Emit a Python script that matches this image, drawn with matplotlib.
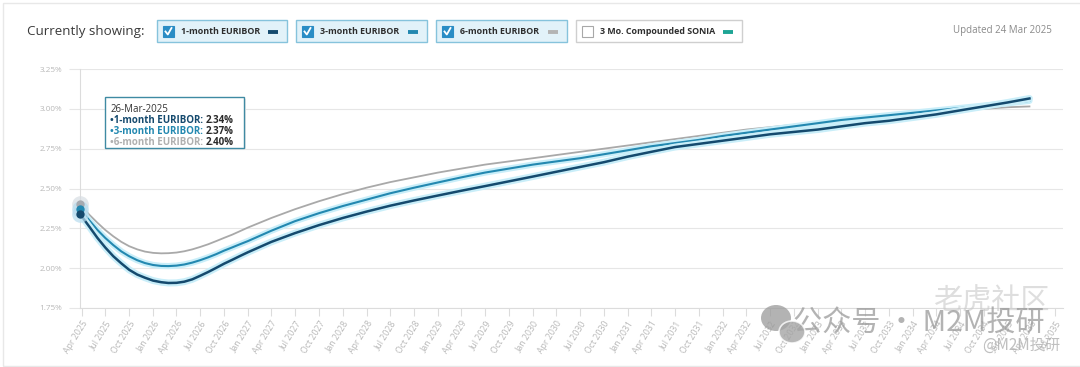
import numpy as np
import pandas as pd
import matplotlib
matplotlib.use("Agg")
import matplotlib.pyplot as plt
import matplotlib.dates as mdates
from matplotlib.patches import Rectangle, Ellipse
from matplotlib.lines import Line2D

# ── Data ──────────────────────────────────────────────────────────────────────

# monthly points through 2026, quarterly afterwards
dates = (["2025-03-26"]
         + [f"2025-{m:02d}-01" for m in range(5, 13)]
         + [f"2026-{m:02d}-01" for m in range(1, 13)]
         + [f"{y}-{m:02d}-01" for y in range(2027, 2035) for m in (1, 4, 7, 10)]
         + ["2035-01-01", "2035-03-26"])

euribor_1m = [2.34, 2.26, 2.19, 2.13, 2.075, 2.03, 1.99, 1.96, 1.94,
              1.922, 1.912, 1.907, 1.908, 1.915, 1.93, 1.952, 1.976, 2.002,
              2.028, 2.052, 2.076,
              2.10, 2.165, 2.22, 2.27, 2.315, 2.355, 2.392, 2.425, 2.456, 2.486,
              2.515, 2.545, 2.575, 2.605, 2.635, 2.665, 2.70, 2.73, 2.76, 2.78,
              2.80, 2.82, 2.84, 2.855, 2.87, 2.89, 2.91, 2.925, 2.945, 2.965,
              2.99, 3.015, 3.04, 3.065]
euribor_3m = [2.37, 2.30, 2.24, 2.19, 2.145, 2.105, 2.075, 2.05, 2.032,
              2.02, 2.014, 2.013, 2.016, 2.023, 2.035, 2.05, 2.068, 2.088,
              2.11, 2.13, 2.15,
              2.17, 2.235, 2.295, 2.345, 2.39, 2.43, 2.47, 2.505, 2.538, 2.57,
              2.60, 2.625, 2.65, 2.67, 2.69, 2.715, 2.74, 2.765, 2.785, 2.805,
              2.83, 2.85, 2.87, 2.89, 2.91, 2.93, 2.945, 2.96, 2.975, 2.99,
              3.005, 3.02, 3.035, 3.05]
euribor_6m = [2.40, 2.335, 2.285, 2.24, 2.20, 2.165, 2.138, 2.118, 2.104,
              2.096, 2.093, 2.094, 2.098, 2.106, 2.118, 2.133, 2.15, 2.17,
              2.19, 2.21, 2.232,
              2.255, 2.315, 2.37, 2.42, 2.465, 2.505, 2.54, 2.57, 2.60, 2.625,
              2.65, 2.67, 2.69, 2.71, 2.73, 2.75, 2.77, 2.79, 2.81, 2.83,
              2.85, 2.87, 2.885, 2.90, 2.92, 2.935, 2.95, 2.96, 2.97, 2.98,
              2.99, 3.00, 3.01, 3.015]

y_ticks = [1.75, 2.00, 2.25, 2.50, 2.75, 3.00, 3.25]
legend_labels = ["1-month EURIBOR", "3-month EURIBOR", "6-month EURIBOR",
                 "3 Mo. Compounded SONIA"]
legend_checked = [True, True, True, False]
tooltip_date = "26-Mar-2025"

# ── Style ─────────────────────────────────────────────────────────────────────

C_1M = "#154a6e"
C_3M = "#2388b0"
C_6M = "#a9a9a9"
C_SONIA = "#1ea595"
GLOW = "#c9eef9"
GRID = "#e6e6e6"
TICK_TXT = "#b8b8b8"

plt.rcParams["font.family"] = ["Open Sans", "DejaVu Sans"]

W, H = 1080, 367
fig = plt.figure(figsize=(W / 100, H / 100), dpi=100)


def fx(x):
    return x / W


def fy(y):
    return 1 - y / H


# card border
fig.patches.append(Rectangle((fx(3), fy(366)), fx(1080), fy(3) - fy(366),
                             transform=fig.transFigure, fill=False,
                             edgecolor="#e8e8e8", lw=1))

# ── Header ────────────────────────────────────────────────────────────────────

fig.text(fx(27), fy(31), "Currently showing:", fontsize=9.6, color="#3a3a3a",
         va="center", ha="left")
fig.text(fx(1052), fy(31), "Updated 24 Mar 2025", fontsize=7.0,
         color="#8a8a8a", va="center", ha="right")

boxes = [(157, 287), (296, 427), (436, 567), (576, 742)]
swatch_cols = [C_1M, C_3M, "#b4b4b4", C_SONIA]
for (x0, x1), lab, chk, sc in zip(boxes, legend_labels, legend_checked,
                                  swatch_cols):
    fc = "#e2f2f9" if chk else "white"
    ec = "#86c3dc" if chk else "#cfcfcf"
    fig.patches.append(Rectangle((fx(x0), fy(42)), fx(x1 - x0), fy(20) - fy(42),
                                 transform=fig.transFigure, facecolor=fc,
                                 edgecolor=ec, lw=1))
    # checkbox
    cb_fc = "#2a8dc5" if chk else "white"
    cb_ec = "#2a8dc5" if chk else "#a8a8a8"
    fig.patches.append(Rectangle((fx(x0 + 6), fy(37)), fx(11), fy(26) - fy(37),
                                 transform=fig.transFigure, facecolor=cb_fc,
                                 edgecolor=cb_ec, lw=0.8))
    if chk:
        fig.lines.append(Line2D([fx(x0 + 8.5), fx(x0 + 10.8), fx(x0 + 14.5)],
                                [fy(31.5), fy(34.5), fy(28)],
                                transform=fig.transFigure, color="white",
                                lw=1.3))
    fig.text(fx(x0 + 24), fy(31.5), lab, fontsize=6.4, fontweight="bold",
             color="#2d2d2d", va="center", ha="left")
    fig.lines.append(Line2D([fx(x1 - 19), fx(x1 - 9)], [fy(31.5), fy(31.5)],
                            transform=fig.transFigure, color=sc, lw=2.8,
                            solid_capstyle="butt"))

# ── Chart ─────────────────────────────────────────────────────────────────────

ax = fig.add_axes([fx(80), fy(308), fx(1063) - fx(80), fy(69) - fy(308)])
x = pd.to_datetime(dates)

ax.plot(x, euribor_6m, color=C_6M, lw=1.3, zorder=3)
ax.plot(x, euribor_3m, color=GLOW, lw=4.5, zorder=3.5, solid_capstyle="round")
ax.plot(x, euribor_3m, color=C_3M, lw=1.5, zorder=4)
ax.plot(x, euribor_1m, color=GLOW, lw=5, zorder=4.5, solid_capstyle="round")
ax.plot(x, euribor_1m, color=C_1M, lw=1.8, zorder=5)

# hover markers on the first point
for series, col, halo in [(euribor_6m, "#a6aab0", "#d7dde3"),
                          (euribor_3m, C_3M, "#b7dcef"),
                          (euribor_1m, C_1M, "#b7dcef")]:
    ax.plot(x[0], series[0], "o", ms=12, color=halo, alpha=0.7, zorder=6,
            clip_on=False, markeredgewidth=0)
    ax.plot(x[0], series[0], "o", ms=6, color=col, zorder=7, clip_on=False,
            markeredgewidth=0)

ax.set_ylim(1.75, 3.25)
ax.set_yticks(y_ticks)
ax.set_yticklabels([f"{v:.2f}%" for v in y_ticks])
ax.set_xlim(pd.Timestamp("2025-03-26"), pd.Timestamp("2035-08-02"))
ax.xaxis.set_major_locator(mdates.MonthLocator(bymonth=(1, 4, 7, 10)))
ax.xaxis.set_major_formatter(mdates.DateFormatter("%b %Y"))

ax.grid(axis="y", color=GRID, lw=0.8)
for s in ("top", "right"):
    ax.spines[s].set_visible(False)
ax.spines["left"].set_color("#dcdcdc")
ax.spines["bottom"].set_color("#dcdcdc")
ax.spines["left"].set_linewidth(0.8)
ax.spines["bottom"].set_linewidth(0.8)
ax.tick_params(axis="y", length=8, color=GRID, labelsize=5.9,
               labelcolor=TICK_TXT, pad=5)
ax.tick_params(axis="x", length=6, color="#dcdcdc", labelsize=6.3,
               labelcolor=TICK_TXT, pad=2)
for lbl in ax.get_xticklabels():
    lbl.set_rotation(58)
    lbl.set_ha("right")
    lbl.set_rotation_mode("anchor")

# ── Tooltip ───────────────────────────────────────────────────────────────────

fig.patches.append(Rectangle((fx(107), fy(150)), fx(139), fy(99) - fy(150),
                             transform=fig.transFigure, facecolor="#e9e9e9",
                             edgecolor="none", zorder=9))
fig.patches.append(Rectangle((fx(105), fy(148)), fx(139), fy(97) - fy(148),
                             transform=fig.transFigure, facecolor="white",
                             edgecolor="#3f8aa3", lw=1, zorder=10))
fig.text(fx(111), fy(109), tooltip_date, fontsize=7, color="#333333",
         va="center", ha="left", zorder=11)

fig.canvas.draw()
renderer = fig.canvas.get_renderer()
tip_rows = [(legend_labels[0], euribor_1m[0], C_1M, 120.5),
            (legend_labels[1], euribor_3m[0], C_3M, 131.5),
            (legend_labels[2], euribor_6m[0], "#b0b0b0", 142.5)]
for lab, val, col, yy in tip_rows:
    t = fig.text(fx(110), fy(yy), "\u2022" + lab + ":", fontsize=7,
                 fontweight="bold", color=col, va="center", ha="left",
                 zorder=11)
    bb = t.get_window_extent(renderer)
    fig.text(fx(bb.x1 + 3), fy(yy), f"{val:.2f}%", fontsize=7,
             fontweight="bold", color="#2a2a2a", va="center", ha="left",
             zorder=11)

# ── Watermark overlay ─────────────────────────────────────────────────────────

wm = ["Noto Sans CJK SC", "DejaVu Sans"]
fig.text(fx(1050), fy(301), "老虎社区", fontsize=21, color="#c8c8c8",
         alpha=0.6, ha="right", va="center", family=wm, zorder=12)
fig.text(fx(793), fy(324), "公众号 · M2M投研", fontsize=21, color="#9a9a9a",
         alpha=0.75, ha="left", va="center", family=wm, zorder=12)
fig.text(fx(1060), fy(345), "@M2M投研", fontsize=11, color="#b0b0b0",
         alpha=0.8, ha="right", va="center", family=wm, zorder=12)
# chat-bubble icon
fig.patches.append(Ellipse((fx(776), fy(318)), fx(30), 26 / H,
                           transform=fig.transFigure, facecolor="#9a9a9a",
                           alpha=0.75, edgecolor="none", zorder=12))
fig.patches.append(Ellipse((fx(792), fy(332)), fx(26), 22 / H,
                           transform=fig.transFigure, facecolor="#a5a5a5",
                           alpha=0.8, edgecolor="white", lw=1.2, zorder=12.5))

fig.savefig("out.png", dpi=100)
